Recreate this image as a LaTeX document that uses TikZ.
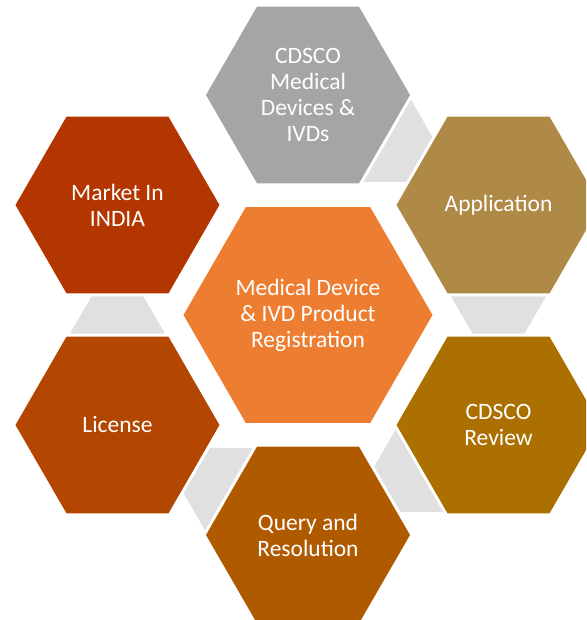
\documentclass[tikz,border=0pt]{standalone}
\usepackage{fontspec}
\setmainfont{Carlito}
\usetikzlibrary{shapes.geometric,calc}
\definecolor{cgray}{HTML}{A5A5A5}
\definecolor{capp}{HTML}{AF8A46}
\definecolor{crev}{HTML}{AB7000}
\definecolor{cqry}{HTML}{B05A00}
\definecolor{clic}{HTML}{B34600}
\definecolor{cmkt}{HTML}{B33600}
\definecolor{cctr}{HTML}{ED7D31}
\definecolor{cconn}{HTML}{E0E0E0}
\tikzset{
  hexo/.style={regular polygon, regular polygon sides=6, shape border rotate=0,
    minimum size=204pt, inner sep=0pt, outer sep=0pt, draw=none},
  hexc/.style={hexo, minimum size=249pt},
  hextxt/.style={text=white, align=center, inner sep=0pt,
    font=\fontsize{23.5pt}{26pt}\selectfont},
  connshape/.style={fill=cconn, draw=none}
}
\newcommand{\hexconn}[2]{%
  \fill[connshape]
    ($($(#1)!0.4159!(#2)$)!47.5pt!90:(#2)$) --
    ($($(#1)!0.5841!(#2)$)!26pt!90:(#2)$) --
    ($($(#1)!0.5841!(#2)$)!26pt!-90:(#2)$) --
    ($($(#1)!0.4159!(#2)$)!47.5pt!-90:(#2)$) -- cycle;}
\begin{document}
\begin{tikzpicture}[x=1pt,y=1pt]
\useasboundingbox (-308,-305) rectangle (278,315);
\clip (-308,-305) rectangle (278,315);
% hexagons
\node[hexc, fill=cctr] (ctr) at (0,0) {};
\node[hexo, fill=cgray] (top) at (90:220) {};
\node[hexo, fill=capp] (tr) at (30:220) {};
\node[hexo, fill=crev] (br) at (-30:220) {};
\node[hexo, fill=cqry] (bot) at (-90:220) {};
\node[hexo, fill=clic] (bl) at (-150:220) {};
\node[hexo, fill=cmkt] (tl) at (150:220) {};
% connectors
\hexconn{top}{tr}
\hexconn{tr}{br}
\hexconn{br}{bot}
\hexconn{bot}{bl}
\hexconn{bl}{tl}
% texts
\node[hextxt] (ctrt) at (ctr) {Medical Device\\\& IVD Product\\Registration};
\node[hextxt] (topt) at (top) {CDSCO\\Medical\\Devices \&\\IVDs};
\node[hextxt] (trt) at (tr) {Application};
\node[hextxt] (brt) at (br) {CDSCO\\Review};
\node[hextxt] (bott) at (bot) {Query and\\Resolution};
\node[hextxt] (blt) at (bl) {License};
\node[hextxt] (tlt) at (tl) {Market In\\INDIA};
\end{tikzpicture}
\end{document}
